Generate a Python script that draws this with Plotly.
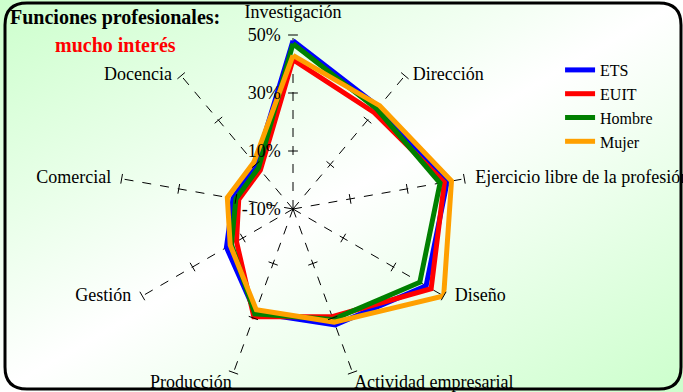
import base64
import plotly.graph_objects as go

categorias = ["Investigación", "Dirección", "Ejercicio libre de la profesión", "Diseño",
              "Actividad empresarial", "Producción", "Gestión", "Comercial", "Docencia"]
ets = [48, 36, 44, 43, 32.5, 28, 16.5, 11, 10]
euit = [41.5, 33.5, 43, 45, 29.5, 29.5, 12.5, 9, 7.5]
hombre = [47, 35, 41.5, 40.5, 30.5, 28.5, 14.5, 10, 8.5]
mujer = [43, 36.5, 45.5, 50, 31.5, 27, 15, 13, 11]
marcas = [10, 30, 50]
radial_vals = [-10, 10, 30, 50]
radial_text = ["-10%", "10%", "30%", "50%"]

series = [("ETS", ets, "#0000ff"), ("EUIT", euit, "#ff0000"),
          ("Hombre", hombre, "#008000"), ("Mujer", mujer, "#ffa000")]

W, H = 683, 392
fuente = "Liberation Serif"
rmax = radial_vals[-1]

fig = go.Figure()
for nombre, vals, color in series:
    fig.add_trace(go.Scatterpolar(
        r=vals + vals[:1], theta=categorias + categorias[:1],
        mode="lines", name=nombre,
        line=dict(color=color, width=5),
    ))

# little perpendicular ticks on every spoke
paso = 360 / len(categorias)
tr, tt, ta = [], [], []
for i, c in enumerate(categorias):
    for m in marcas:
        tr.append(m)
        tt.append(c)
        ta.append(i * paso)
fig.add_trace(go.Scatterpolar(
    r=tr, theta=tt, mode="markers", showlegend=False, hoverinfo="skip",
    marker=dict(symbol="line-ew", size=7, angle=ta, color="black",
                line=dict(color="black", width=1)),
))

# category names at the end of each spoke (Excel-like placement)
pos_txt = ["top center", "middle right", "middle right", "middle right", "bottom right",
           "bottom left", "middle left", "middle left", "middle left"]
sep_txt = [19, 11, 16, 16, 1, 1, 16, 15, 13]
fig.add_trace(go.Scatterpolar(
    r=[rmax] * len(categorias), theta=categorias, text=categorias,
    mode="markers+text", textposition=pos_txt, cliponaxis=False,
    showlegend=False, hoverinfo="skip",
    marker=dict(size=sep_txt, opacity=0),
    textfont=dict(family=fuente, size=18, color="black"),
))

# background gradient
svg = (f'<svg xmlns="http://www.w3.org/2000/svg" width="{W}" height="{H}">'
       '<defs><linearGradient id="g" x1="0" y1="0" x2="1" y2="1">'
       '<stop offset="0" stop-color="#ccffcc"/><stop offset="0.5" stop-color="#ffffff"/>'
       '<stop offset="1" stop-color="#ccffcc"/></linearGradient></defs>'
       f'<rect width="{W}" height="{H}" fill="url(#g)"/></svg>')
src = "data:image/svg+xml;base64," + base64.b64encode(svg.encode()).decode()

# rounded frame
x0, x1, y0, y1, rr = 5 / W, 681 / W, 1 - 389 / H, 1 - 3 / H, 22
rx, ry = rr / W, rr / H
marco = (f"M{x0+rx},{y1} L{x1-rx},{y1} Q{x1},{y1} {x1},{y1-ry} L{x1},{y0+ry} "
         f"Q{x1},{y0} {x1-rx},{y0} L{x0+rx},{y0} Q{x0},{y0} {x0},{y0+ry} "
         f"L{x0},{y1-ry} Q{x0},{y1} {x0+rx},{y1} Z")

nb = "\u00a0"
fig.update_layout(
    width=W, height=H,
    margin=dict(l=0, r=0, t=0, b=0),
    paper_bgcolor="white",
    font=dict(family=fuente, size=18, color="black"),
    images=[dict(source=src, xref="paper", yref="paper", x=0, y=1, sizex=1, sizey=1,
                 xanchor="left", yanchor="top", sizing="stretch", layer="below")],
    shapes=[dict(type="path", path=marco, xref="paper", yref="paper",
                 line=dict(color="black", width=3))],
    polar=dict(
        domain=dict(x=[119 / W, 467 / W], y=[1 - 383 / H, 1 - 35 / H]),
        bgcolor="rgba(0,0,0,0)",
        angularaxis=dict(direction="clockwise", rotation=90, showline=False, ticks="",
                         showticklabels=False,
                         showgrid=True, gridcolor="black", gridwidth=1, griddash="dash"),
        radialaxis=dict(range=[radial_vals[0], rmax], tickvals=radial_vals,
                        ticktext=[t + nb * 2 for t in radial_text],
                        angle=90, side="counterclockwise", tickangle=90,
                        showline=False, showgrid=False,
                        ticks="", tickfont=dict(family=fuente, size=18)),
    ),
    legend=dict(x=0.82, y=1 - 106 / H, xanchor="left", yanchor="middle",
                bgcolor="rgba(0,0,0,0)", font=dict(family=fuente, size=16, color="black"),
                tracegroupgap=0),
    annotations=[
        dict(text="<b>Funciones profesionales:</b>", x=8 / W, y=1 - 17 / H, xref="paper",
             yref="paper", xanchor="left", yanchor="middle", showarrow=False,
             font=dict(family=fuente, size=20, color="black")),
        dict(text="<b>mucho interés</b>", x=115 / W, y=1 - 45 / H, xref="paper",
             yref="paper", xanchor="center", yanchor="middle", showarrow=False,
             font=dict(family=fuente, size=20, color="#ff0000")),
    ],
)

fig.write_html("out.html", config={"displayModeBar": False},
               post_script="document.body.style.margin='0';document.body.style.overflow='hidden';")
